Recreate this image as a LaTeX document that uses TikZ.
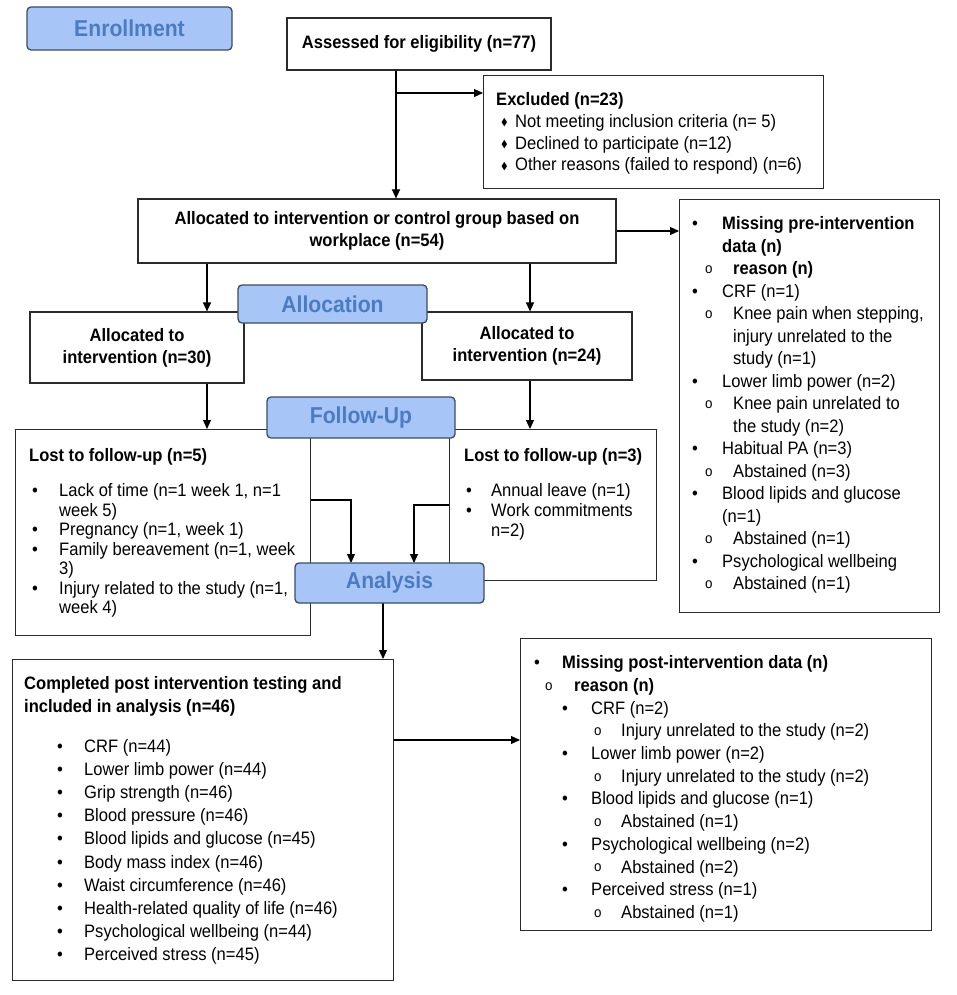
\documentclass[tikz,border=0pt]{standalone}
\usepackage{fontspec}
\setmainfont[FakeStretch=0.92]{Liberation Sans}
\usepackage{amssymb}
\usepackage{graphicx}
\usetikzlibrary{arrows.meta}
\definecolor{stagefill}{HTML}{A7C5F7}
\definecolor{stageedge}{HTML}{3B4B66}
\definecolor{stagetext}{HTML}{4B7CC2}
\definecolor{boxline}{HTML}{2B2B2B}
\newcommand{\bul}[1]{\makebox[#1][l]{\textbullet}}
\newcommand{\rng}[1]{\makebox[#1][l]{\raisebox{1.2pt}{\fontsize{14.5}{14.5}\selectfont o}}}
\newcommand{\dia}[1]{\makebox[#1][l]{\raisebox{1.5pt}{\scalebox{0.55}{$\blacklozenge$}}}}

\begin{document}
\begin{tikzpicture}[x=1pt, y=-1pt,
    panel/.style={draw=boxline, line width=1.1pt, anchor=north west, inner sep=0pt},
    centrebox/.style={draw=boxline, line width=1.1pt, align=center, inner sep=0pt,
      font=\fontsize{18}{22}\selectfont\bfseries},
    txt/.style={anchor=north west, inner sep=0pt, align=left, font=\fontsize{18}{#1}\selectfont},
    stage/.style={draw=stageedge, fill=stagefill, line width=1.3pt, rounded corners=4pt,
      text=stagetext, inner sep=0pt, font=\fontsize{23}{26}\selectfont\bfseries},
    link/.style={draw=black, line width=1.1pt, -{Triangle[length=9pt,width=8pt]}}]
  \useasboundingbox (0,0) rectangle (957,995);

  % boxes
  \node (assess) at (419,44) [centrebox, minimum width=264, minimum height=52] {Assessed for eligibility (n=77)};
  \node (excl) at (483,75) [panel, minimum width=340, minimum height=113] {};
  \node (group) at (377,231) [centrebox, minimum width=478, minimum height=64]
        {Allocated to intervention or control group based on\\workplace (n=54)};
  \node (pre) at (679,199) [panel, minimum width=260, minimum height=413] {};
  \node (a30) at (137,347.5) [centrebox, minimum width=214, minimum height=71] {Allocated to\\intervention (n=30)};
  \node (a24) at (527,346) [centrebox, minimum width=210, minimum height=68] {Allocated to\\intervention (n=24)};
  \node (lost5) at (15,429) [panel, minimum width=295, minimum height=206] {};
  \node (lost3) at (449,429) [panel, minimum width=207, minimum height=151] {};
  \node (done) at (12,659) [panel, minimum width=381, minimum height=321] {};
  \node (post) at (520,638) [panel, minimum width=411, minimum height=292] {};

  % box texts
  \node (exclT) at (496,92.5) [txt=21.7] {\textbf{Excluded (n=23)}\\
    \hspace*{5pt}\dia{14pt}Not meeting inclusion criteria (n= 5)\\
    \hspace*{5pt}\dia{14pt}Declined to participate (n=12)\\
    \hspace*{5pt}\dia{14pt}Other reasons (failed to respond) (n=6)};

  \node (preT) at (692,216.5) [txt=22.5] {\bul{30pt}\textbf{Missing pre-intervention}\\
    \hspace*{30pt}\textbf{data (n)}\\
    \hspace*{13pt}\rng{28pt}\textbf{reason (n)}\\
    \bul{30pt}CRF (n=1)\\
    \hspace*{13pt}\rng{28pt}Knee pain when stepping,\\
    \hspace*{41pt}injury unrelated to the\\
    \hspace*{41pt}study (n=1)\\
    \bul{30pt}Lower limb power (n=2)\\
    \hspace*{13pt}\rng{28pt}Knee pain unrelated to\\
    \hspace*{41pt}the study (n=2)\\
    \bul{30pt}Habitual PA (n=3)\\
    \hspace*{13pt}\rng{28pt}Abstained (n=3)\\
    \bul{30pt}Blood lipids and glucose\\
    \hspace*{30pt}(n=1)\\
    \hspace*{13pt}\rng{28pt}Abstained (n=1)\\
    \bul{30pt}Psychological wellbeing\\
    \hspace*{13pt}\rng{28pt}Abstained (n=1)};

  \node (lost5T) at (29,448.5) [txt=19.5] {\textbf{Lost to follow-up (n=5)}\\[15.5pt]
    \hspace*{3pt}\bul{27pt}Lack of time (n=1 week 1, n=1\\
    \hspace*{30pt}week 5)\\
    \hspace*{3pt}\bul{27pt}Pregnancy (n=1, week 1)\\
    \hspace*{3pt}\bul{27pt}Family bereavement (n=1, week\\
    \hspace*{30pt}3)\\
    \hspace*{3pt}\bul{27pt}Injury related to the study (n=1,\\
    \hspace*{30pt}week 4)};

  \node (lost3T) at (464,448.5) [txt=20] {\textbf{Lost to follow-up (n=3)}\\[15pt]
    \hspace*{2pt}\bul{25pt}Annual leave (n=1)\\
    \hspace*{2pt}\bul{25pt}Work commitments\\
    \hspace*{27pt}n=2)};

  \node (doneT) at (24,676.5) [txt=23.2] {\textbf{Completed post intervention testing and}\\
    \textbf{included in analysis (n=46)}\\[16pt]
    \hspace*{33pt}\bul{27pt}CRF (n=44)\\
    \hspace*{33pt}\bul{27pt}Lower limb power (n=44)\\
    \hspace*{33pt}\bul{27pt}Grip strength (n=46)\\
    \hspace*{33pt}\bul{27pt}Blood pressure (n=46)\\
    \hspace*{33pt}\bul{27pt}Blood lipids and glucose (n=45)\\
    \hspace*{33pt}\bul{27pt}Body mass index (n=46)\\
    \hspace*{33pt}\bul{27pt}Waist circumference (n=46)\\
    \hspace*{33pt}\bul{27pt}Health-related quality of life (n=46)\\
    \hspace*{33pt}\bul{27pt}Psychological wellbeing (n=44)\\
    \hspace*{33pt}\bul{27pt}Perceived stress (n=45)};

  \node (postT) at (534,655.5) [txt=22.7] {\bul{28pt}\textbf{Missing post-intervention data (n)}\\
    \hspace*{11pt}\rng{29pt}\textbf{reason (n)}\\
    \hspace*{28pt}\bul{29pt}CRF (n=2)\\
    \hspace*{60pt}\rng{27pt}Injury unrelated to the study (n=2)\\
    \hspace*{28pt}\bul{29pt}Lower limb power (n=2)\\
    \hspace*{60pt}\rng{27pt}Injury unrelated to the study (n=2)\\
    \hspace*{28pt}\bul{29pt}Blood lipids and glucose (n=1)\\
    \hspace*{60pt}\rng{27pt}Abstained (n=1)\\
    \hspace*{28pt}\bul{29pt}Psychological wellbeing (n=2)\\
    \hspace*{60pt}\rng{27pt}Abstained (n=2)\\
    \hspace*{28pt}\bul{29pt}Perceived stress (n=1)\\
    \hspace*{60pt}\rng{27pt}Abstained (n=1)};

  % connectors
  \coordinate (fork) at (396,93);
  \coordinate (colL) at (207,0);
  \coordinate (colR) at (530,0);
  \coordinate (colM) at (383,0);
  \coordinate (joinL) at (351,500);
  \coordinate (joinR) at (414,505);
  \coordinate (rowP) at (0,740);
  \draw[link] (assess.south -| fork) -- (group.north -| fork);
  \draw[link] (fork) -- (fork -| excl.west);
  \draw[link] (group.east) -- (group.east -| pre.west);
  \draw[link] (group.south -| colL) -- (a30.north -| colL);
  \draw[link] (group.south -| colR) -- (a24.north -| colR);
  \draw[link] (a30.south -| colL) -- (lost5.north -| colL);
  \draw[link] (a24.south -| colR) -- (lost3.north -| colR);
  \draw[link] (joinL -| lost5.east) -- (joinL) -- (joinL |- 0,563);
  \draw[link] (joinR -| lost3.west) -- (joinR) -- (joinR |- 0,563);
  \draw[link] (colM |- 0,603) -- (done.north -| colM);
  \draw[link] (rowP -| done.east) -- (rowP -| post.west);

  % stage labels
  \node (enrol) at (129.5,28.5) [stage, minimum width=205, minimum height=43] {Enrollment};
  \node (alloc) at (332.5,304) [stage, minimum width=189, minimum height=38] {Allocation};
  \node (follow) at (361,417.5) [stage, minimum width=188, minimum height=41] {Follow-Up};
  \node (analysis) at (389.5,583) [stage, minimum width=189, minimum height=40] {Analysis};
\end{tikzpicture}
\end{document}
